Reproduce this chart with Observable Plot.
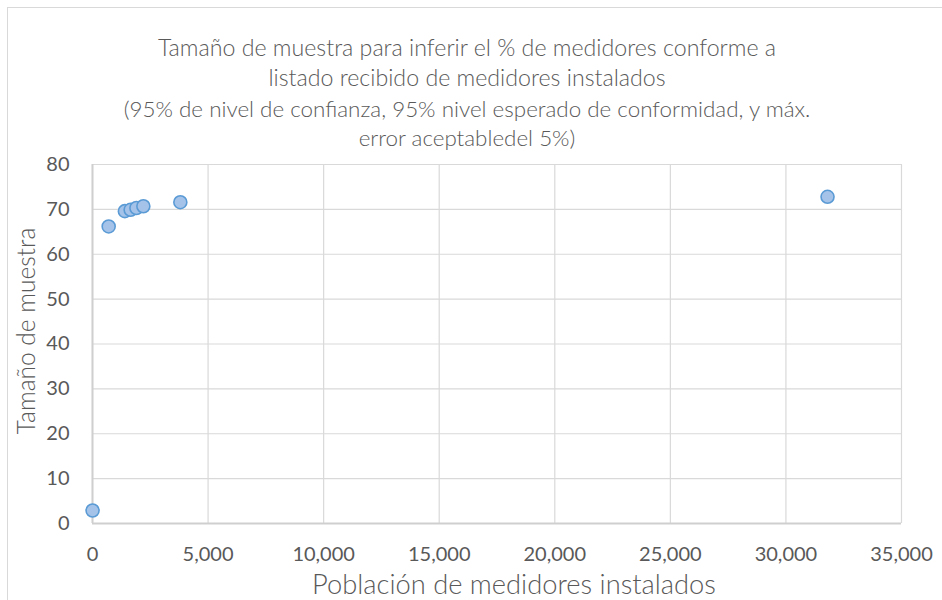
<!DOCTYPE html>
<html>
<head>
<meta charset="utf-8">
<script src="https://cdn.jsdelivr.net/npm/d3@7"></script>
<script src="https://cdn.jsdelivr.net/npm/@observablehq/plot@0.6"></script>
<style>
  html, body { margin: 0; padding: 0; background: #fff; }
  #wrap { position: relative; width: 942px; height: 600px; overflow: hidden; font-family: Lato, "Open Sans", sans-serif; color: #595959; }
  #frame { position: absolute; left: 7px; top: 7px; width: 940px; height: 600px; border-left: 1px solid #d9d9d9; border-top: 1px solid #d9d9d9; pointer-events: none; }
  #titles { height: 152px; padding-top: 32px; box-sizing: border-box; text-align: center; padding-right: 8px; font-weight: 300; }
  .t { font-size: 23.2px; line-height: 30px; height: 30px; white-space: nowrap; }
  .s { font-size: 22.4px; line-height: 29px; height: 29px; white-space: nowrap; }
  #titles .s1 { margin-top: 2px; }
</style>
</head>
<body>
<div id="wrap">
  <div id="frame"></div>
  <div id="titles">
    <div class="t">Tamaño de muestra para inferir el % de medidores conforme a</div>
    <div class="t">listado recibido de medidores instalados</div>
    <div class="s s1">(95% de nivel de confianza, 95% nivel esperado de conformidad, y máx.</div>
    <div class="s">error aceptabledel 5%)</div>
  </div>
  <div id="chart"></div>
</div>
<script>
// Data
const poblacion = [3, 700, 1400, 1650, 1900, 2200, 3800, 31800];
const muestra   = [2.9, 66.2, 69.6, 69.9, 70.3, 70.7, 71.6, 72.8];
const xTicks = [0, 5000, 10000, 15000, 20000, 25000, 30000, 35000];
const yTicks = [0, 10, 20, 30, 40, 50, 60, 70, 80];
const xTitle = "Población de medidores instalados";
const yTitle = "Tamaño de muestra";

const data = poblacion.map((p, i) => ({p, m: muestra[i]}));
const textColor = "#595959";
const gridColor = "#d9d9d9";

const chart = Plot.plot({
  width: 942,
  height: 448,
  marginTop: 12,
  marginBottom: 77,
  marginLeft: 92,
  marginRight: 41,
  style: {fontFamily: "Lato, 'Open Sans', sans-serif", color: textColor, background: "transparent", overflow: "visible"},
  x: {domain: [0, 35000], ticks: xTicks},
  y: {domain: [0, 80], ticks: yTicks},
  marks: [
    Plot.gridX(xTicks, {stroke: gridColor, strokeOpacity: 1, strokeWidth: 1.2}),
    Plot.gridY(yTicks, {stroke: gridColor, strokeOpacity: 1, strokeWidth: 1.2}),
    Plot.ruleX([0], {stroke: "#cfcfcf", strokeWidth: 2}),
    Plot.ruleY([0], {stroke: "#cfcfcf", strokeWidth: 2}),
    Plot.axisX(xTicks, {tickSize: 0, tickPadding: 23, fontSize: 20, label: null, tickFormat: d3.format(","), fill: textColor}),
    Plot.axisY(yTicks, {tickSize: 0, tickPadding: 23, fontSize: 20, label: null, fill: textColor}),
    Plot.text([xTitle], {frameAnchor: "bottom", textAnchor: "middle", dx: 17, dy: 62, lineAnchor: "middle", fontSize: 27.3, fontWeight: 300, fill: textColor}),
    Plot.text([yTitle], {frameAnchor: "left", textAnchor: "middle", dx: -65, dy: -13, rotate: -90, lineAnchor: "middle", fontSize: 24.5, fontWeight: 300, fill: textColor}),
    Plot.dot(data, {x: "p", y: "m", r: 6.5, fill: "#a5c3e9", stroke: "#5b9bd5", strokeWidth: 1.6})
  ]
});
document.getElementById("chart").appendChild(chart);
</script>
</body>
</html>
